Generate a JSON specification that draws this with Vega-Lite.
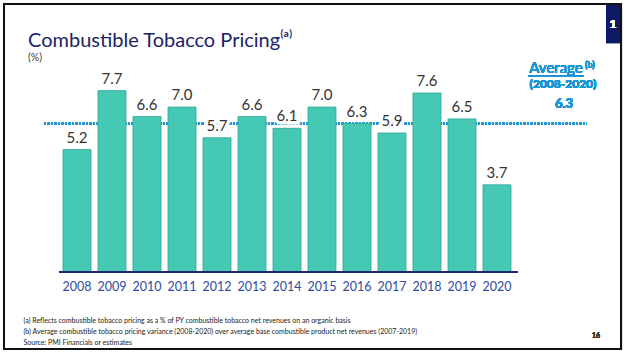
{
  "$schema": "https://vega.github.io/schema/vega-lite/v6.json",
  "width": 518,
  "height": 212,
  "autosize": {"type": "none"},
  "padding": {"left": 44, "top": 60, "right": 64, "bottom": 82},
  "background": "white",
  "config": {
    "font": "Lato",
    "view": {"stroke": null}
  },
  "title": {
    "text": "Combustible Tobacco Pricing⁽ᵃ⁾",
    "subtitle": "(%)",
    "anchor": "start",
    "frame": "group",
    "dx": -16,
    "offset": -60,
    "fontSize": 20,
    "fontWeight": "normal",
    "color": "#1b2366",
    "font": "Lato",
    "subtitleFont": "Lato",
    "subtitleFontSize": 10.5,
    "subtitleColor": "#404040",
    "subtitlePadding": 2
  },
  "data": {
    "values": [
      {"year": "2008", "value": 5.2},
      {"year": "2009", "value": 7.7},
      {"year": "2010", "value": 6.6},
      {"year": "2011", "value": 7.0},
      {"year": "2012", "value": 5.7},
      {"year": "2013", "value": 6.6},
      {"year": "2014", "value": 6.1},
      {"year": "2015", "value": 7.0},
      {"year": "2016", "value": 6.3},
      {"year": "2017", "value": 5.9},
      {"year": "2018", "value": 7.6},
      {"year": "2019", "value": 6.5},
      {"year": "2020", "value": 3.7}
    ]
  },
  "encoding": {
    "x": {
      "field": "year",
      "type": "nominal",
      "scale": {"type": "band", "paddingInner": 0.2, "paddingOuter": 1, "align": 0.2714},
      "axis": {
        "domain": false,
        "ticks": false,
        "labelAngle": 0,
        "labelFontSize": 12.5,
        "labelColor": "#2e4b9b",
        "labelPadding": 8,
        "labelFont": "Lato",
        "title": [
          "(a)  Reflects combustible tobacco pricing as a % of PY combustible tobacco net revenues on an organic basis",
          "(b)  Average combustible tobacco pricing variance (2008-2020) over average base combustible product net revenues (2007-2019)",
          "Source: PMI Financials or estimates"
        ],
        "titleFont": "Lato",
        "titleFontSize": 7,
        "titleFontWeight": "normal",
        "titleColor": "#222222",
        "titleAlign": "left",
        "titleAnchor": "start",
        "titleBaseline": "alphabetic",
        "titleLineHeight": 11,
        "titleX": -21,
        "titleY": 50
      }
    }
  },
  "layer": [
    {
      "mark": {"type": "rect", "fill": "transparent", "stroke": "#111111", "strokeWidth": 2},
      "encoding": {
        "x": {"datum": "2008", "type": "nominal", "bandPosition": -2.107},
        "x2": {"datum": "2020", "bandPosition": 4.929},
        "y": {"datum": 11.377, "type": "quantitative", "scale": {"domain": [0, 9]}, "axis": null},
        "y2": {"datum": -3.269}
      }
    },
    {
      "mark": {"type": "rect", "fill": "#0d1a63"},
      "encoding": {
        "x": {"datum": "2020", "type": "nominal", "bandPosition": 4.393},
        "x2": {"datum": "2020", "bandPosition": 4.893},
        "y": {"datum": 11.33, "type": "quantitative"},
        "y2": {"datum": 9.72}
      }
    },
    {
      "mark": {"type": "text", "baseline": "middle", "align": "center", "dx": 116, "fontSize": 12, "color": "white", "font": "Lato", "fontWeight": "bold", "text": "1"},
      "encoding": {"x": {"datum": "2020", "type": "nominal"}, "y": {"datum": 10.53, "type": "quantitative"}}
    },
    {
      "mark": {"type": "rule", "color": "#2196d3", "strokeWidth": 2, "strokeDash": [2, 1.5]},
      "encoding": {
        "x": {"datum": "2008", "type": "nominal", "bandPosition": -0.68},
        "x2": {"datum": "2020", "bandPosition": 3.71},
        "y": {"datum": 6.3, "type": "quantitative"}
      }
    },
    {
      "mark": {"type": "bar", "color": "#45c9b5", "stroke": "#2fa593", "strokeWidth": 0.8},
      "encoding": {
        "y": {"field": "value", "type": "quantitative"}
      }
    },
    {
      "mark": {"type": "text", "baseline": "alphabetic", "dy": -7, "fontSize": 15, "color": "white", "stroke": "white", "strokeWidth": 7, "font": "Lato"},
      "encoding": {
        "y": {"field": "value", "type": "quantitative"},
        "text": {"field": "value", "type": "quantitative", "format": ".1f"}
      }
    },
    {
      "mark": {"type": "text", "baseline": "alphabetic", "dy": -7, "fontSize": 15, "color": "#333333", "font": "Lato"},
      "encoding": {
        "y": {"field": "value", "type": "quantitative"},
        "text": {"field": "value", "type": "quantitative", "format": ".1f"}
      }
    },
    {
      "mark": {"type": "rule", "color": "#1f2a6b", "strokeWidth": 1.5},
      "encoding": {
        "x": {"datum": "2008", "type": "nominal", "bandPosition": -0.14},
        "x2": {"datum": "2020", "bandPosition": 1.25},
        "y": {"datum": 0, "type": "quantitative"}
      }
    },
    {
      "mark": {"type": "text", "baseline": "alphabetic", "align": "center", "dx": 59, "fontSize": 15, "color": "#1a96d4", "font": "Lato", "fontWeight": "normal", "text": "Average"},
      "encoding": {"x": {"datum": "2020", "type": "nominal"}, "y": {"datum": 8.45, "type": "quantitative"}}
    },
    {
      "mark": {"type": "text", "baseline": "alphabetic", "align": "left", "dx": 88, "dy": -5, "fontSize": 9, "color": "#1a96d4", "font": "Lato", "text": "(b)"},
      "encoding": {"x": {"datum": "2020", "type": "nominal"}, "y": {"datum": 8.45, "type": "quantitative"}}
    },
    {
      "mark": {"type": "rule", "color": "#1a96d4", "strokeWidth": 1},
      "encoding": {
        "x": {"datum": "2020", "type": "nominal", "bandPosition": 1.607},
        "x2": {"datum": "2020", "bandPosition": 3.607},
        "y": {"datum": 8.33, "type": "quantitative"}
      }
    },
    {
      "mark": {"type": "text", "baseline": "alphabetic", "align": "center", "dx": 66, "fontSize": 12, "color": "#1a96d4", "font": "Lato", "fontWeight": "bold", "text": "(2008-2020)"},
      "encoding": {"x": {"datum": "2020", "type": "nominal"}, "y": {"datum": 7.81, "type": "quantitative"}}
    },
    {
      "mark": {"type": "text", "baseline": "alphabetic", "align": "center", "dx": 67, "fontSize": 13, "color": "#1a96d4", "font": "Lato", "fontWeight": "bold", "text": "6.3"},
      "encoding": {"x": {"datum": "2020", "type": "nominal"}, "y": {"datum": 6.96, "type": "quantitative"}}
    },
    {
      "mark": {"type": "text", "baseline": "middle", "align": "center", "dx": 99, "dy": 64, "fontSize": 7, "color": "#333333", "font": "Lato", "text": "16"},
      "encoding": {"x": {"datum": "2020", "type": "nominal"}, "y": {"datum": 0, "type": "quantitative"}}
    }
  ]
}
